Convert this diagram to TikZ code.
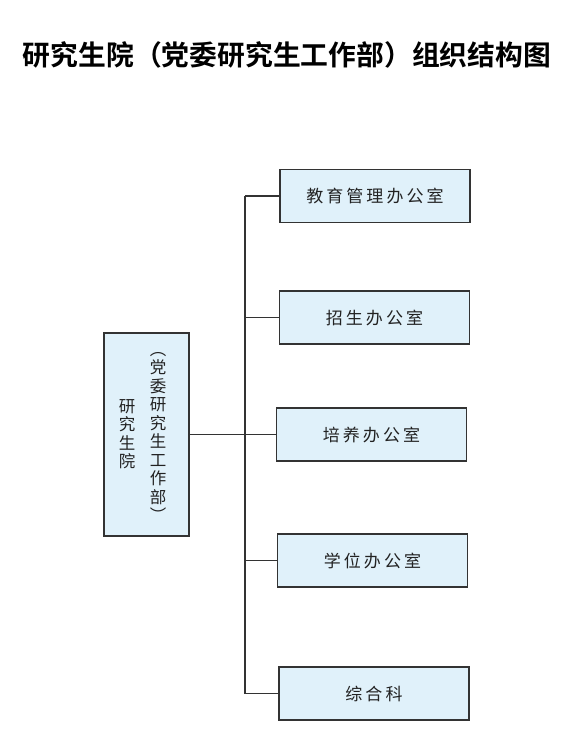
\documentclass[tikz,border=0pt]{standalone}
\usepackage{fontspec}
\setmainfont{Noto Sans CJK SC}
\newfontfamily\titlefont{Noto Sans CJK SC}[BoldFont=* Bold]
\newfontfamily\boxfont{Noto Sans CJK SC}[LetterSpace=18]
\usetikzlibrary{positioning}
\definecolor{orgBlue}{HTML}{E0F1FA}
\definecolor{orgLine}{HTML}{333333}
\definecolor{orgText}{HTML}{222222}
\tikzset{
  unitbox/.style  = {draw=orgLine, fill=orgBlue, line width=1.2pt,
                     minimum width=190pt, minimum height=53pt, inner sep=0pt,
                     text=orgText, font=\boxfont\fontsize{17}{18}\selectfont},
  rootbox/.style  = {draw=orgLine, fill=orgBlue, line width=1.2pt,
                     minimum width=85pt, minimum height=203pt, inner sep=0pt},
  vcol/.style     = {align=center, inner sep=0pt, text=orgText,
                     font=\fontsize{16.5}{18.5}\selectfont},
  link/.style     = {orgLine, line width=1.1pt},
}
\begin{document}
\begin{tikzpicture}[x=1pt,y=-1pt]
  \useasboundingbox (0,0) rectangle (577,740);
  \node[font=\titlefont\bfseries\fontsize{27.8}{30}\selectfont, text=black] (title) at (287,55)
    {研究生院（党委研究生工作部）组织结构图};

  % graduate school box
  \node[rootbox] (root) at (146.5,434.5) {};
  \node[vcol] (rootA) at (127,434) {研\\究\\生\\院};
  \node[vcol] (rootB) at (158,437) {︵\\党\\委\\研\\究\\生\\工\\作\\部\\︶};

  % offices
  \node[unitbox] (edu)   at (375,196)   {教育管理办公室};
  \node[unitbox] (admit) at (374.5,317.5) {招生办公室};
  \node[unitbox] (train) at (371.5,434.5) {培养办公室};
  \node[unitbox] (degree) at (372.5,560.5) {学位办公室};
  \node[unitbox] (general) at (374,693.5) {综合科};

  \coordinate (trunk) at (245,0);
  \draw[link] (edu.west -| trunk) -- (general.west -| trunk);
  \draw[link] (root.east) -- (train.west);
  \foreach \n in {edu, admit, degree, general}
    \draw[link] (\n.west) -- (\n.west -| trunk);
\end{tikzpicture}
\end{document}
